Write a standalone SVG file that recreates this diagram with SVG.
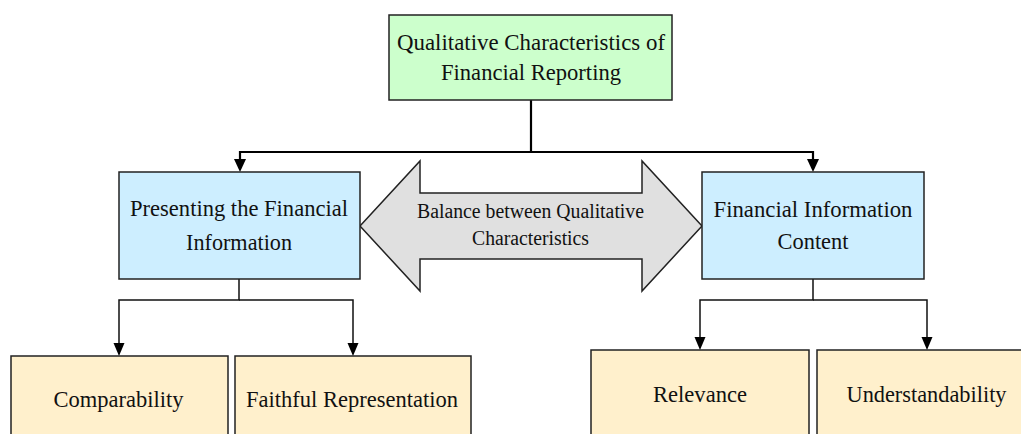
<svg xmlns="http://www.w3.org/2000/svg" width="1021" height="434" viewBox="0 0 1021 434">
<style>
text{font-family:"Liberation Serif","Times New Roman",serif;font-size:22.5px;fill:#111;text-anchor:middle}
.box{stroke:#222;stroke-width:1.5}
.green{fill:#ccffcc}
.blue{fill:#cdeeff}
.tan{fill:#fff0cc}
.c1{fill:none;stroke:#000;stroke-width:2.2}
.c2{fill:none;stroke:#111;stroke-width:1.5}
.sm{font-size:20px}
</style>
<g id="connectors">
<path class="c1" d="M531,100 V152 H240 V160"/>
<path class="c1" d="M531,152 H813 V160"/>
<path d="M234,159 L246,159 L240,172 Z" fill="#000"/>
<path d="M807,159 L819,159 L813,172 Z" fill="#000"/>
<path class="c2" d="M239,279 V300 H119 V344"/>
<path class="c2" d="M239,300 H353 V344"/>
<path d="M113.5,343 L124.5,343 L119,356 Z" fill="#000"/>
<path d="M347.5,343 L358.5,343 L353,356 Z" fill="#000"/>
<path class="c2" d="M813,279 V300 H700 V338"/>
<path class="c2" d="M813,300 H927 V338"/>
<path d="M694.5,337 L705.5,337 L700,350 Z" fill="#000"/>
<path d="M921.5,337 L932.5,337 L927,350 Z" fill="#000"/>
</g>
<g id="balance">
<path d="M360,226 L420,161 L420,193 L642,193 L642,161 L702,226 L642,291 L642,259 L420,259 L420,291 Z" fill="#e0e0e0" stroke="#222" stroke-width="1.5"/>
<text class="sm" x="530.5" y="218" textLength="227" lengthAdjust="spacingAndGlyphs">Balance between Qualitative</text>
<text class="sm" x="530.5" y="245" textLength="117" lengthAdjust="spacingAndGlyphs">Characteristics</text>
</g>
<g id="top">
<rect class="box green" x="389" y="15" width="283" height="85"/>
<text x="531" y="50" textLength="268" lengthAdjust="spacingAndGlyphs">Qualitative Characteristics of</text>
<text x="531" y="80" textLength="180" lengthAdjust="spacingAndGlyphs">Financial Reporting</text>
</g>
<g id="presenting">
<rect class="box blue" x="119" y="172" width="241" height="107"/>
<text x="239" y="216" textLength="218" lengthAdjust="spacingAndGlyphs">Presenting the Financial</text>
<text x="239" y="250" textLength="106" lengthAdjust="spacingAndGlyphs">Information</text>
</g>
<g id="content">
<rect class="box blue" x="702" y="172" width="222" height="107"/>
<text x="813" y="217" textLength="199" lengthAdjust="spacingAndGlyphs">Financial Information</text>
<text x="813" y="249" textLength="71" lengthAdjust="spacingAndGlyphs">Content</text>
</g>
<g id="comparability">
<rect class="box tan" x="11" y="356" width="217" height="90"/>
<text x="118.5" y="407" textLength="130" lengthAdjust="spacingAndGlyphs">Comparability</text>
</g>
<g id="faithful">
<rect class="box tan" x="235" y="356" width="236" height="90"/>
<text x="352" y="407" textLength="212" lengthAdjust="spacingAndGlyphs">Faithful Representation</text>
</g>
<g id="relevance">
<rect class="box tan" x="591" y="350" width="218" height="96"/>
<text x="700" y="402" textLength="94" lengthAdjust="spacingAndGlyphs">Relevance</text>
</g>
<g id="understandability">
<rect class="box tan" x="817" y="350" width="220" height="96"/>
<text x="926.5" y="402" textLength="160" lengthAdjust="spacingAndGlyphs">Understandability</text>
</g>
</svg>
